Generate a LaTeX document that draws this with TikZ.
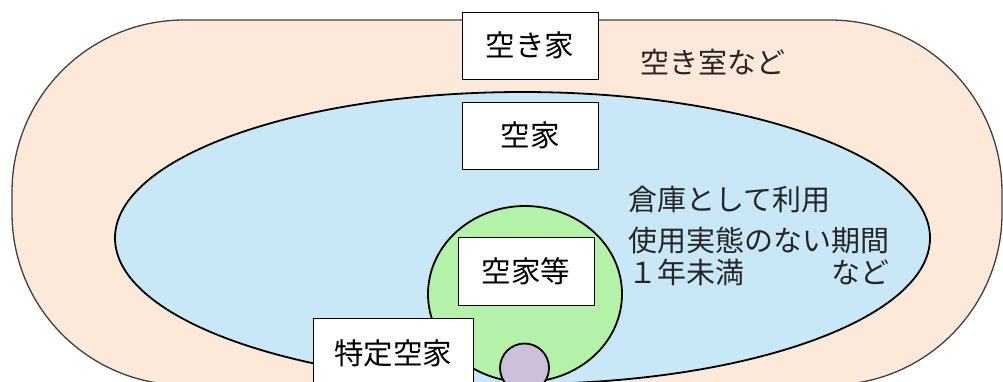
\documentclass[tikz,border=0pt]{standalone}
\usepackage{fontspec}
\usetikzlibrary{shapes.geometric}
\setmainfont{Noto Sans CJK JP}
\definecolor{peach}{HTML}{FDE9D9}
\definecolor{skyb}{HTML}{C8E8F8}
\definecolor{lgreen}{HTML}{B3F2A8}
\definecolor{lpurp}{HTML}{CCC0DA}
\definecolor{edgegray}{HTML}{404040}
\begin{document}
\begin{tikzpicture}[x=1pt,y=-1pt,
  labelbox/.style={draw=black,line width=1pt,fill=white,inner sep=0pt,font=\fontsize{29.5}{32}\selectfont},
  freetext/.style={inner sep=0pt,anchor=west,font=\fontsize{29}{32}\selectfont,text=black!85},
  region/.style={draw=black,line width=1.8pt}]
\useasboundingbox (0,0) rectangle (1003,381);
\clip (0,0) rectangle (1003,381);
\fill[white] (0,0) rectangle (1003,381);
% outer stadium
\draw[fill=peach,draw=edgegray,line width=1.3pt,rounded corners=172pt] (12,20) rectangle (1002,385);
% blue ellipse
\node[region,fill=skyb,ellipse,minimum width=815pt,minimum height=292pt,inner sep=0pt] (akiya) at (522.5,238) {};
% green
\node[region,fill=lgreen,ellipse,minimum width=194pt,minimum height=176pt,inner sep=0pt] (akiyatou) at (525,294) {};
% purple
\node[region,fill=lpurp,circle,minimum size=49pt,inner sep=0pt] (tokutei) at (524.5,368) {};
% boxes
\node[labelbox,minimum width=136pt,minimum height=67pt] (b1) at (530,45.5) {空き家};
\node[labelbox,minimum width=136pt,minimum height=67pt] (b2) at (530,135.5) {空家};
\node[labelbox,minimum width=136pt,minimum height=68pt] (b3) at (526,271) {空家等};
\node[labelbox,minimum width=160pt,minimum height=70pt] (b4) at (393,353) {特定空家};
% free texts
\node[freetext] (t0) at (640,62) {空き室など};
\node[freetext] (t1) at (628,200) {倉庫として利用};
\node[freetext] (t2) at (628,240) {使用実態のない期間};
\node[freetext] (t3) at (628,272) {１年未満　　　など};
\end{tikzpicture}
\end{document}
